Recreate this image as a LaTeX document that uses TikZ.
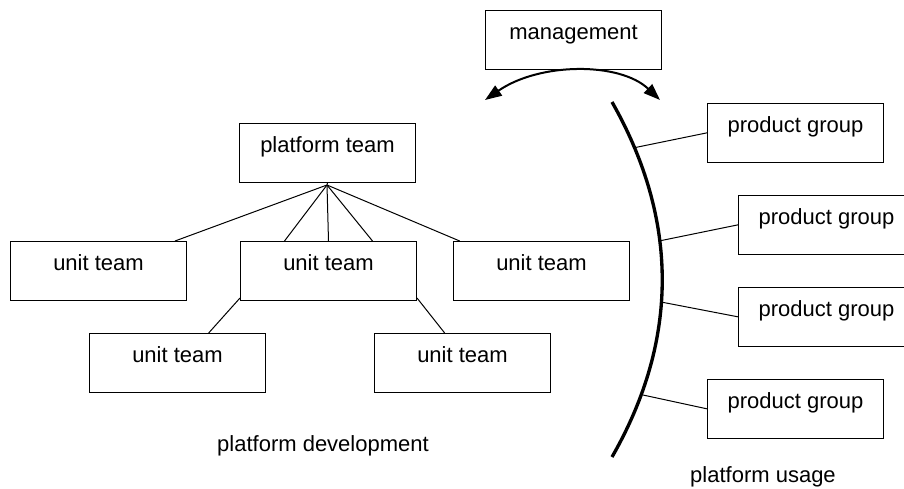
\documentclass[tikz,border=0pt]{standalone}
\usepackage{fontspec}
\setmainfont{Liberation Sans}
\usetikzlibrary{arrows.meta}
\tikzset{
  orgbox/.style={draw, line width=0.75pt, anchor=north west, inner sep=0pt,
    minimum width=132pt, text height=21.75pt, text depth=22.25pt},
  tie/.style={line width=0.75pt},
  caption/.style={inner sep=0pt},
  every node/.style={font=\fontsize{16.5}{19}\selectfont}
}
\begin{document}
\begin{tikzpicture}[x=0.75pt, y=-0.75pt]
        \clip (0, 0) rectangle (904, 489);

        \node[orgbox] (mgmt) at (485, 10) {management};
        \node[orgbox] (pteam) at (239, 123) {platform team};

        \node[orgbox] (unitA) at (10, 241) {unit team};
        \node[orgbox] (unitB) at (240, 241) {unit team};
        \node[orgbox] (unitC) at (453, 241) {unit team};
        \node[orgbox] (unitD) at (89, 333) {unit team};
        \node[orgbox] (unitE) at (374, 333) {unit team};

        \node[orgbox] (prodA) at (707, 103) {product group};
        \node[orgbox] (prodB) at (738, 195) {product group};
        \node[orgbox] (prodC) at (738, 287) {product group};
        \node[orgbox] (prodD) at (707, 379) {product group};

        \node[caption] (devlabel) at (323, 446) {platform development};
        \node[caption] (uselabel) at (763, 477) {platform usage};

        \coordinate (hub) at (327, 185);
        \draw[tie] (pteam.south) -- (hub);
        \draw[tie] (hub) -- ([xshift=-9pt]unitA.north east);
        \draw[tie] (hub) -- ([xshift=-33pt]unitB.north);
        \draw[tie] (hub) -- (unitB.north);
        \draw[tie] (hub) -- ([xshift=33pt]unitB.north);
        \draw[tie] (hub) -- ([xshift=5pt]unitC.north west);
        \draw[tie] ([yshift=2pt]unitB.south west) -- ([xshift=-43pt]unitD.north east);
        \draw[tie] ([yshift=2pt]unitB.south east) -- ([xshift=53pt]unitE.north west);

        \coordinate (arcL) at (485, 100);
        \coordinate (arcR) at (660, 100);
        \draw[line width=1.5pt, {Triangle[length=12.5pt,width=9pt]}-{Triangle[length=12.5pt,width=9pt]}]
            (arcL) .. controls (540, 62) and (620, 62) .. (arcR);

        \coordinate (bowTop) at (612, 102);
        \coordinate (bowEnd) at (612, 457);
        \draw[line width=2.5pt] (bowTop) .. controls (679, 220) and (679, 340) .. (bowEnd);

        \coordinate (tapA) at (633, 148);
        \coordinate (tapB) at (659, 241);
        \coordinate (tapC) at (661, 302);
        \coordinate (tapD) at (643, 395);
        \draw[tie] (tapA) -- (prodA.west);
        \draw[tie] (tapB) -- (prodB.west);
        \draw[tie] (tapC) -- (prodC.west);
        \draw[tie] (tapD) -- (prodD.west);
    \end{tikzpicture}
\end{document}
